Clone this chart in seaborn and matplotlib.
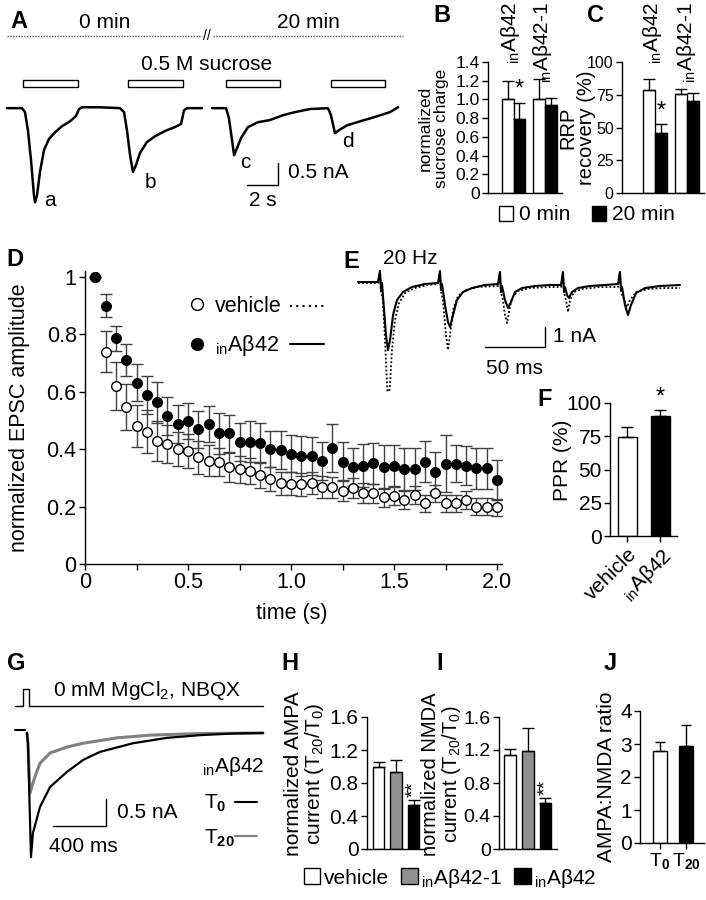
import matplotlib.pyplot as plt
import numpy as np
import pandas as pd
import seaborn as sns
from matplotlib.lines import Line2D
from matplotlib.patches import Patch, Rectangle
from matplotlib.ticker import FixedLocator

sns.set_theme(style="ticks")
plt.rcParams["font.family"] = ["Liberation Sans", "DejaVu Sans"]
plt.rcParams.update({
    "font.size": 15,
    "mathtext.fontset": "custom",
    "mathtext.rm": "Liberation Sans",
    "mathtext.it": "Liberation Sans:italic",
    "mathtext.bf": "Liberation Sans:bold",
    "mathtext.default": "regular",
    "axes.linewidth": 1.0,
    "axes.edgecolor": "black",
    "axes.labelcolor": "black",
    "text.color": "black",
    "xtick.color": "black",
    "ytick.color": "black",
    "xtick.major.size": 4,
    "ytick.major.size": 4,
    "xtick.minor.size": 4,
    "xtick.major.width": 1,
    "ytick.major.width": 1,
    "xtick.minor.width": 1,
    "xtick.major.pad": 2,
    "ytick.major.pad": 2,
})

AB = r"$_{in}$Aβ42"

# ---- A: sucrose responses (s, nA) ----
sweep0_t = [0, 0.97, 1.16, 1.35, 1.55, 1.74, 1.81, 1.94, 2.13, 2.39, 2.71, 3.10, 3.55, 4.06,
            4.45, 4.65, 4.84, 6.0, 7.29, 7.55, 7.74, 7.94, 8.13, 8.32, 8.58, 9.03, 9.55,
            10.19, 10.84, 11.23, 11.42, 11.61, 12.58]
sweep0_i = [0, 0, -0.09, -0.5, -1.18, -1.98, -2.14, -1.98, -1.45, -0.95, -0.7, -0.55, -0.41, -0.3,
            -0.18, -0.02, 0.02, 0.02, 0, -0.09, -0.5, -1.07, -1.45, -1.3, -1.02, -0.77, -0.64,
            -0.52, -0.43, -0.36, -0.05, 0, 0]
sweep20_t = [13.23, 14.13, 14.32, 14.52, 14.65, 14.84, 15.1, 15.55, 16.19, 16.97, 17.81, 18.58,
             19.55, 20.71, 20.9, 21.16, 21.42, 21.94, 22.77, 23.74, 24.71, 25.23]
sweep20_i = [0, 0, -0.23, -0.73, -1.07, -0.91, -0.68, -0.43, -0.32, -0.27, -0.16, -0.09,
             -0.02, 0, -0.16, -0.57, -0.5, -0.39, -0.3, -0.2, -0.09, 0.02]
sucrose_on = [1.03, 7.81, 14.13, 20.9]
sucrose_off = [4.58, 11.35, 17.61, 24.39]

# ---- B / C ----
groups = [AB, AB + "-1"]
charge_0 = [1.0, 1.0]
charge_0_err = [0.20, 0.22]
charge_20 = [0.79, 0.94]
charge_20_err = [0.17, 0.08]
rrp_0 = [79, 75.5]
rrp_0_err = [8, 4]
rrp_20 = [46, 70]
rrp_20_err = [7, 6]

# ---- D: 20 Hz train ----
stim_times = [0.05, 0.10, 0.15, 0.20, 0.25, 0.30, 0.35, 0.40, 0.45, 0.50,
              0.55, 0.60, 0.65, 0.70, 0.75, 0.80, 0.85, 0.90, 0.95, 1.00,
              1.05, 1.10, 1.15, 1.20, 1.25, 1.30, 1.35, 1.40, 1.45, 1.50,
              1.55, 1.60, 1.65, 1.70, 1.75, 1.80, 1.85, 1.90, 1.95, 2.00]
vehicle_amp = [1.0, 0.74, 0.621, 0.548, 0.481, 0.461, 0.43, 0.418, 0.40, 0.394,
               0.372, 0.36, 0.355, 0.337, 0.33, 0.323, 0.31, 0.295, 0.281, 0.28,
               0.278, 0.281, 0.267, 0.267, 0.255, 0.266, 0.246, 0.246, 0.232, 0.237,
               0.223, 0.24, 0.211, 0.246, 0.211, 0.211, 0.223, 0.2, 0.2, 0.198]
vehicle_err = [0, 0.072, 0.084, 0.08, 0.073, 0.075, 0.07, 0.065, 0.06, 0.06,
               0.058, 0.055, 0.05, 0.05, 0.048, 0.045, 0.045, 0.042, 0.04, 0.04,
               0.04, 0.038, 0.038, 0.036, 0.036, 0.035, 0.035, 0.034, 0.033, 0.033,
               0.032, 0.032, 0.03, 0.03, 0.03, 0.03, 0.03, 0.03, 0.03, 0.03]
abeta_amp = [1.0, 0.90, 0.786, 0.711, 0.632, 0.589, 0.563, 0.517, 0.488, 0.498,
             0.469, 0.488, 0.455, 0.455, 0.426, 0.426, 0.423, 0.40, 0.397, 0.384,
             0.377, 0.376, 0.359, 0.403, 0.357, 0.338, 0.343, 0.351, 0.338, 0.343,
             0.33, 0.33, 0.357, 0.32, 0.35, 0.35, 0.343, 0.333, 0.333, 0.293]
abeta_err = [0, 0.04, 0.043, 0.056, 0.064, 0.066, 0.072, 0.066, 0.066, 0.062,
             0.064, 0.064, 0.07, 0.065, 0.066, 0.072, 0.07, 0.063, 0.066, 0.064,
             0.07, 0.067, 0.067, 0.084, 0.067, 0.066, 0.075, 0.072, 0.076, 0.07,
             0.073, 0.073, 0.07, 0.07, 0.1, 0.064, 0.067, 0.07, 0.07, 0.069]

# ---- E: example EPSC trains (ms, nA) ----
e_abeta_t = [0, 16.7, 18.3, 19.2, 20.0, 21.7, 23.3, 25.0, 26.7, 29.2, 32.5, 37.5, 45.0, 55.8,
             66.7, 68.3, 69.2, 70.0, 72.5, 75.0, 76.7, 79.2, 82.5, 87.5, 95.0, 105.8,
             116.7, 118.3, 119.2, 120.0, 122.5, 125.0, 127.5, 130.8, 136.7, 147.5, 160.0,
             169.2, 170.8, 171.7, 172.5, 174.2, 175.8, 178.3, 183.3, 193.3, 205.8,
             216.7, 218.3, 219.2, 220.0, 222.5, 225.0, 227.5, 231.7, 239.2, 251.7, 268.3]
e_abeta_i = [0, 0, 0.55, -0.4, -0.05, -1.4, -2.65, -3.4, -2.9, -1.65, -0.9, -0.5, -0.25, -0.1,
             -0.05, 0.55, -0.4, -0.1, -1.15, -2.0, -2.25, -1.65, -0.9, -0.5, -0.3, -0.15,
             -0.1, 0.5, -0.5, -0.2, -0.9, -1.3, -1.0, -0.5, -0.3, -0.2, -0.15,
             -0.15, 0.5, -0.5, -0.25, -0.65, -0.8, -0.5, -0.3, -0.2, -0.15,
             -0.1, 0.5, -0.4, -0.25, -1.15, -1.65, -1.15, -0.55, -0.3, -0.2, -0.15]
e_vehicle_t = [0, 16.7, 18.3, 19.2, 20.8, 22.5, 24.2, 25.0, 26.7, 28.3, 30.8, 34.2, 39.2, 47.5,
               58.3, 66.7, 68.3, 69.2, 70.8, 73.3, 75.0, 76.7, 79.2, 83.3, 90.0, 100.0,
               116.7, 118.3, 119.2, 120.8, 122.5, 124.2, 125.8, 128.3, 133.3, 143.3, 160.0,
               169.2, 170.8, 171.7, 173.3, 175.0, 176.7, 180.0, 186.7, 201.7,
               216.7, 218.3, 219.2, 221.7, 224.2, 226.7, 231.7, 241.7, 255.8, 268.3]
e_vehicle_i = [-0.05, -0.05, 0.55, -0.5, -0.9, -2.9, -5.15, -5.9, -5.15, -3.4, -1.9, -1.05, -0.55, -0.3,
               -0.15, -0.1, 0.5, -0.5, -0.9, -2.65, -3.4, -2.65, -1.4, -0.7, -0.4, -0.25,
               -0.2, 0.45, -0.55, -0.9, -1.65, -2.05, -1.5, -0.8, -0.45, -0.3, -0.25,
               -0.25, 0.45, -0.55, -0.9, -1.5, -0.9, -0.5, -0.35, -0.25,
               -0.25, 0.45, -0.5, -0.9, -1.25, -0.9, -0.5, -0.35, -0.3, -0.3]

# ---- F: paired-pulse ratio ----
ppr_labels = ["vehicle", AB]
ppr_vals = [74.3, 90.2]
ppr_err = [7.5, 4.5]

# ---- G: NMDA currents (ms, nA) ----
g_t0_t = [0, 7.5, 30, 45, 98, 174, 302, 423, 551, 800, 1057, 1306, 1555, 1781]
g_t0_i = [0, -0.2, -2.30, -1.85, -1.37, -1.0, -0.72, -0.50, -0.35, -0.19, -0.09, -0.04, -0.01, 0]
g_t20_t = [0, 7.5, 22.6, 60, 98, 174, 302, 423, 679, 928, 1306, 1781]
g_t20_i = [0, -0.2, -1.11, -0.81, -0.56, -0.37, -0.26, -0.19, -0.09, -0.04, -0.01, 0]

# ---- H / I / J ----
hi_labels = ["vehicle", AB + "-1", AB]
hi_colors = ["white", "#8f8f8f", "black"]
ampa_vals = [0.99, 0.93, 0.53]
ampa_err = [0.07, 0.15, 0.07]
nmda_vals = [1.14, 1.19, 0.56]
nmda_err = [0.07, 0.28, 0.06]
ratio_labels = [r"T$_{\mathbf{0}}$", r"T$_{\mathbf{20}}$"]
ratio_vals = [2.79, 2.94]
ratio_err = [0.27, 0.65]

W, H = 706, 900
fig = plt.figure(figsize=(W / 100, H / 100), dpi=100)


def add_axes(x0, y0, x1, y1):
    return fig.add_axes([x0 / W, 1 - y1 / H, (x1 - x0) / W, (y1 - y0) / H])


def ftext(x, y, s, **kw):
    kw.setdefault("ha", "center")
    kw.setdefault("va", "center")
    return fig.text(x / W, 1 - y / H, s, **kw)


def fline(xs, ys, **kw):
    fig.add_artist(Line2D([x / W for x in xs], [1 - y / H for y in ys], **kw))


def simple_bars(ax, labels, vals, errs, colors, width, capsize):
    df = pd.DataFrame({"cond": labels, "value": vals})
    sns.barplot(data=df, x="cond", y="value", hue="cond", palette=colors, width=width,
                edgecolor="black", linewidth=1, saturation=1, legend=False, ax=ax)
    pos = np.arange(len(labels))
    ax.errorbar(pos, vals, yerr=[np.zeros(len(vals)), errs], fmt="none", ecolor="black",
                elinewidth=1, capsize=capsize, capthick=1, zorder=3)
    ax.set_xlabel("")
    ax.set_ylabel("")
    sns.despine(ax=ax)
    return pos


def grouped_bars(ax, v0, e0, v20, e20, capsize):
    df = pd.DataFrame({"group": groups * 2,
                       "time": ["0 min"] * 2 + ["20 min"] * 2,
                       "value": v0 + v20})
    sns.barplot(data=df, x="group", y="value", hue="time", palette=["white", "black"],
                width=0.75, gap=0, edgecolor="black", linewidth=1, saturation=1,
                legend=False, ax=ax)
    pos = np.arange(len(groups))
    for off, v, e in [(-0.1875, v0, e0), (0.1875, v20, e20)]:
        ax.errorbar(pos + off, v, yerr=[np.zeros(len(v)), e], fmt="none", ecolor="black",
                    elinewidth=1, capsize=capsize, capthick=1, zorder=3)
    ax.set_xlabel("")
    ax.set_ylabel("")
    ax.set_xticks([])
    sns.despine(ax=ax)
    return pos


# ================= A =================
axA = add_axes(0, 40, 410, 215)
axA.set_xlim(-0.45, 26.0)
axA.set_ylim(-2.43, 1.55)
axA.axis("off")
sns.lineplot(x=sweep0_t, y=sweep0_i, sort=False, estimator=None, color="black", lw=1.8, ax=axA)
sns.lineplot(x=sweep20_t, y=sweep20_i, sort=False, estimator=None, color="black", lw=1.8, ax=axA)
for on, off in zip(sucrose_on, sucrose_off):
    axA.add_patch(Rectangle((on, 0.48), off - on, 0.16, fill=False, ec="black", lw=1))
axA.plot([15.48, 17.48, 17.48], [-1.75, -1.75, -1.25], color="black", lw=1)
ftext(19, 21, "A", fontsize=17, fontweight="bold")
ftext(105, 22, "0 min", fontsize=15)
ftext(308, 22, "20 min", fontsize=15)
fline([7, 202], [36, 36], color="0.35", lw=1, ls=(0, (1, 1)))
fline([213, 403], [36, 36], color="0.35", lw=1, ls=(0, (1, 1)))
ftext(207, 36, "//", fontsize=10)
ftext(207, 65, "0.5 M sucrose", fontsize=15)
ftext(50, 200, "a", fontsize=15)
ftext(150, 183, "b", fontsize=15)
ftext(245, 163, "c", fontsize=15)
ftext(348, 141, "d", fontsize=15)
ftext(288, 173, "0.5 nA", fontsize=15, ha="left")
ftext(263, 200, "2 s", fontsize=15)

# ================= B =================
axB = add_axes(488, 62, 562, 193)
posB = grouped_bars(axB, charge_0, charge_0_err, charge_20, charge_20_err, 4.3)
axB.set_xlim(-0.8, 1.52)
axB.set_ylim(0, 1.4)
axB.set_yticks(np.linspace(0, 1.4, 8))
axB.set_yticklabels(["0", "0.2", "0.4", "0.6", "0.8", "1.0", "1.2", "1.4"])
axB.tick_params(axis="y", labelsize=12.5)
axB.text(posB[0] + 0.1875, 0.99, "*", ha="center", va="bottom", fontsize=17)
ftext(433, 128, "normalized\nsucrose charge", rotation=90, fontsize=12.5, linespacing=1.1)
ftext(442, 15, "B", fontsize=17, fontweight="bold")
for x, lab in zip([510, 543], groups):
    ftext(x, 2, lab, rotation=90, va="top", fontsize=15)

# ================= C =================
axC = add_axes(622, 62, 704, 193)
posC = grouped_bars(axC, rrp_0, rrp_0_err, rrp_20, rrp_20_err, 4.3)
axC.set_xlim(-1.03, 1.53)
axC.set_ylim(0, 100)
axC.set_yticks([0, 25, 50, 75, 100])
axC.tick_params(axis="y", labelsize=11.5)
axC.text(posC[0] + 0.1875, 54, "*", ha="center", va="bottom", fontsize=17)
ftext(577, 128, "RRP\nrecovery (%)", rotation=90, fontsize=14.5, linespacing=1.0)
ftext(595, 15, "C", fontsize=17, fontweight="bold")
for x, lab in zip([653, 687], groups):
    ftext(x, 2, lab, rotation=90, va="top", fontsize=15)
fig.legend(handles=[Patch(fc="white", ec="black", lw=1), Patch(fc="black", ec="black", lw=1)],
           labels=["0 min", "20 min"], loc="center", bbox_to_anchor=(587 / W, 1 - 215 / H),
           ncol=2, frameon=False, handlelength=0.7, handleheight=0.7, handletextpad=0.3,
           columnspacing=1.0, fontsize=15)

# ================= D =================
axD = add_axes(85, 271, 502, 564)
axD.errorbar(stim_times, vehicle_amp, yerr=vehicle_err, fmt="none", ecolor="0.25",
             elinewidth=1, capsize=4.5, capthick=1, zorder=2)
axD.errorbar(stim_times, abeta_amp, yerr=abeta_err, fmt="none", ecolor="0.25",
             elinewidth=1, capsize=4.5, capthick=1, zorder=2)
sns.scatterplot(x=stim_times, y=vehicle_amp, color="white", edgecolor="black", linewidth=1,
                s=48, zorder=3, ax=axD)
sns.scatterplot(x=stim_times, y=abeta_amp, color="black", edgecolor="black", linewidth=1,
                s=48, zorder=4, ax=axD)
axD.set_xlim(0, 2.024)
axD.set_ylim(0, 1.021)
axD.set_xticks([0, 0.5, 1.0, 1.5, 2.0])
axD.set_xticklabels(["0", "0.5", "1.0", "1.5", "2.0"])
axD.xaxis.set_minor_locator(FixedLocator([0.25, 0.75, 1.25, 1.75]))
axD.set_yticks([0, 0.2, 0.4, 0.6, 0.8, 1.0])
axD.set_yticklabels(["0", "0.2", "0.4", "0.6", "0.8", "1"])
axD.tick_params(labelsize=15.5)
axD.set_xlabel("time (s)", fontsize=15.5)
axD.set_ylabel("normalized EPSC amplitude", fontsize=15.5)
axD.xaxis.set_label_coords((292 - 85) / 417, (564 - 603) / 293)
axD.yaxis.set_label_coords((30 - 85) / 417, 0.5)
sns.despine(ax=axD)
leg1 = axD.legend(handles=[Line2D([], [], marker="o", ls="none", mfc="white", mec="black", ms=8.5),
                           Line2D([], [], marker="o", ls="none", mfc="black", mec="black", ms=8.5)],
                  labels=["vehicle", AB], loc="center left",
                  bbox_to_anchor=(186 / W, 1 - 327 / H), bbox_transform=fig.transFigure,
                  frameon=False, handlelength=1.0, handletextpad=0.35, labelspacing=0.75,
                  borderpad=0, borderaxespad=0, fontsize=15.5)
axD.add_artist(leg1)
axD.legend(handles=[Line2D([], [], color="black", lw=1.5, ls=(0, (1, 2))),
                    Line2D([], [], color="black", lw=1.5)],
           labels=["", ""], loc="center left",
           bbox_to_anchor=(290 / W, 1 - 327 / H), bbox_transform=fig.transFigure,
           frameon=False, handlelength=1.6, handletextpad=0, labelspacing=0.75,
           borderpad=0, borderaxespad=0, fontsize=15.5)
ftext(15, 260, "D", fontsize=17, fontweight="bold")

# ================= E =================
axE = add_axes(355, 255, 685, 392)
axE.patch.set_alpha(0)
axE.set_xlim(-2.5, 272.5)
axE.set_ylim(-5.5, 1.35)
axE.axis("off")
sns.lineplot(x=e_vehicle_t, y=e_vehicle_i, sort=False, estimator=None, color="black",
             lw=1.3, ls=(0, (1, 1.2)), ax=axE)
sns.lineplot(x=e_abeta_t, y=e_abeta_i, sort=False, estimator=None, color="black", lw=1.5, ax=axE)
axE.plot([105.8, 155.8, 155.8], [-3.25, -3.25, -2.25], color="black", lw=1)
ftext(351, 262, "E", fontsize=17, fontweight="bold")
ftext(383, 259, "20 Hz", fontsize=15, ha="left")
ftext(553, 337, "1 nA", fontsize=15, ha="left")
ftext(515, 368, "50 ms", fontsize=15)

# ================= F =================
axF = add_axes(610, 403, 677, 536)
posF = simple_bars(axF, ppr_labels, ppr_vals, ppr_err, ["white", "black"], 0.6, 4.3)
axF.set_xlim(-0.53, 1.5)
axF.set_ylim(0, 100)
axF.set_yticks([0, 25, 50, 75, 100])
axF.set_xticks(posF)
axF.set_xticklabels(ppr_labels, rotation=45, ha="right", rotation_mode="anchor")
axF.tick_params(labelsize=15)
axF.text(posF[1], 95.5, "*", ha="center", va="bottom", fontsize=17)
ftext(562, 460, "PPR (%)", rotation=90, fontsize=15)
ftext(545, 400, "F", fontsize=17, fontweight="bold")

# ================= G =================
axG = add_axes(5, 680, 270, 870)
axG.set_xlim(-166, 1834)
axG.set_ylim(-2.537, 0.981)
axG.axis("off")
axG.plot([-90, -30, -30, 15, 15, 1781], [0.5, 0.5, 0.82, 0.82, 0.5, 0.5], color="black", lw=1)
axG.plot([-90, -15], [0.06, 0.06], color="black", lw=1.5)
sns.lineplot(x=g_t20_t, y=g_t20_i, sort=False, estimator=None, color="#808080", lw=2.2, ax=axG)
sns.lineplot(x=g_t0_t, y=g_t0_i, sort=False, estimator=None, color="black", lw=1.6, ax=axG)
axG.plot([196, 596, 596], [-1.72, -1.72, -1.22], color="black", lw=1)
ftext(16, 663, "G", fontsize=17, fontweight="bold")
ftext(147, 690, "0 mM MgCl$_2$, NBQX", fontsize=15)
ftext(233, 767, AB, fontsize=15)
ftext(204, 803, r"T$_{\mathbf{0}}$", fontsize=15, ha="left")
ftext(204, 838, r"T$_{\mathbf{20}}$", fontsize=15, ha="left")
fline([235, 257], [802, 802], color="black", lw=1.5)
fline([235, 257], [836, 836], color="#808080", lw=1.5)
ftext(117, 813, "0.5 nA", fontsize=15, ha="left")
ftext(83, 847, "400 ms", fontsize=15)

# ================= H =================
axH = add_axes(367, 717, 426, 849)
posH = simple_bars(axH, hi_labels, ampa_vals, ampa_err, hi_colors, 0.66, 4.3)
axH.set_xlim(-0.66, 2.71)
axH.set_ylim(0, 1.6)
axH.set_yticks([0, 0.4, 0.8, 1.2, 1.6])
axH.set_yticklabels(["0", "0.4", "0.8", "1.2", "1.6"])
axH.set_xticks([])
axH.tick_params(labelsize=15)
axH.text(posH[2], 0.63, "**", rotation=90, ha="center", va="bottom", fontsize=14)
ftext(305, 774, "normalized AMPA\ncurrent (T$_{20}$/T$_{0}$)", rotation=90, fontsize=15,
      linespacing=1.05)
ftext(290, 663, "H", fontsize=17, fontweight="bold")

# ================= I =================
axI = add_axes(499, 717, 557, 849)
posI = simple_bars(axI, hi_labels, nmda_vals, nmda_err, hi_colors, 0.66, 4.3)
axI.set_xlim(-0.62, 2.65)
axI.set_ylim(0, 1.6)
axI.set_yticks([0, 0.4, 0.8, 1.2, 1.6])
axI.set_yticklabels(["0", "0.4", "0.8", "1.2", "1.6"])
axI.set_xticks([])
axI.tick_params(labelsize=14)
axI.text(posI[2], 0.65, "**", rotation=90, ha="center", va="bottom", fontsize=14)
ftext(442, 774, "normalized NMDA\ncurrent (T$_{20}$/T$_{0}$)", rotation=90, fontsize=14.5,
      linespacing=1.0)
ftext(440, 663, "I", fontsize=17, fontweight="bold")

# ================= J =================
axJ = add_axes(640, 711, 704, 843)
posJ = simple_bars(axJ, ratio_labels, ratio_vals, ratio_err, ["white", "black"], 0.54, 3.6)
axJ.set_xlim(-0.77, 1.69)
axJ.set_ylim(0, 4)
axJ.set_yticks([0, 1, 2, 3, 4])
axJ.set_xticks(posJ)
axJ.set_xticklabels(ratio_labels)
axJ.tick_params(axis="y", labelsize=15)
axJ.tick_params(axis="x", labelsize=14)
ftext(607, 777, "AMPA:NMDA ratio", rotation=90, fontsize=15)
ftext(610, 663, "J", fontsize=17, fontweight="bold")

fig.legend(handles=[Patch(fc=c, ec="black", lw=1) for c in hi_colors], labels=hi_labels,
           loc="center", bbox_to_anchor=(450 / W, 1 - 878 / H), ncol=3, frameon=False,
           handlelength=0.8, handleheight=0.8, handletextpad=0.15, columnspacing=0.6,
           fontsize=15)

fig.savefig("out.png", dpi=100)
